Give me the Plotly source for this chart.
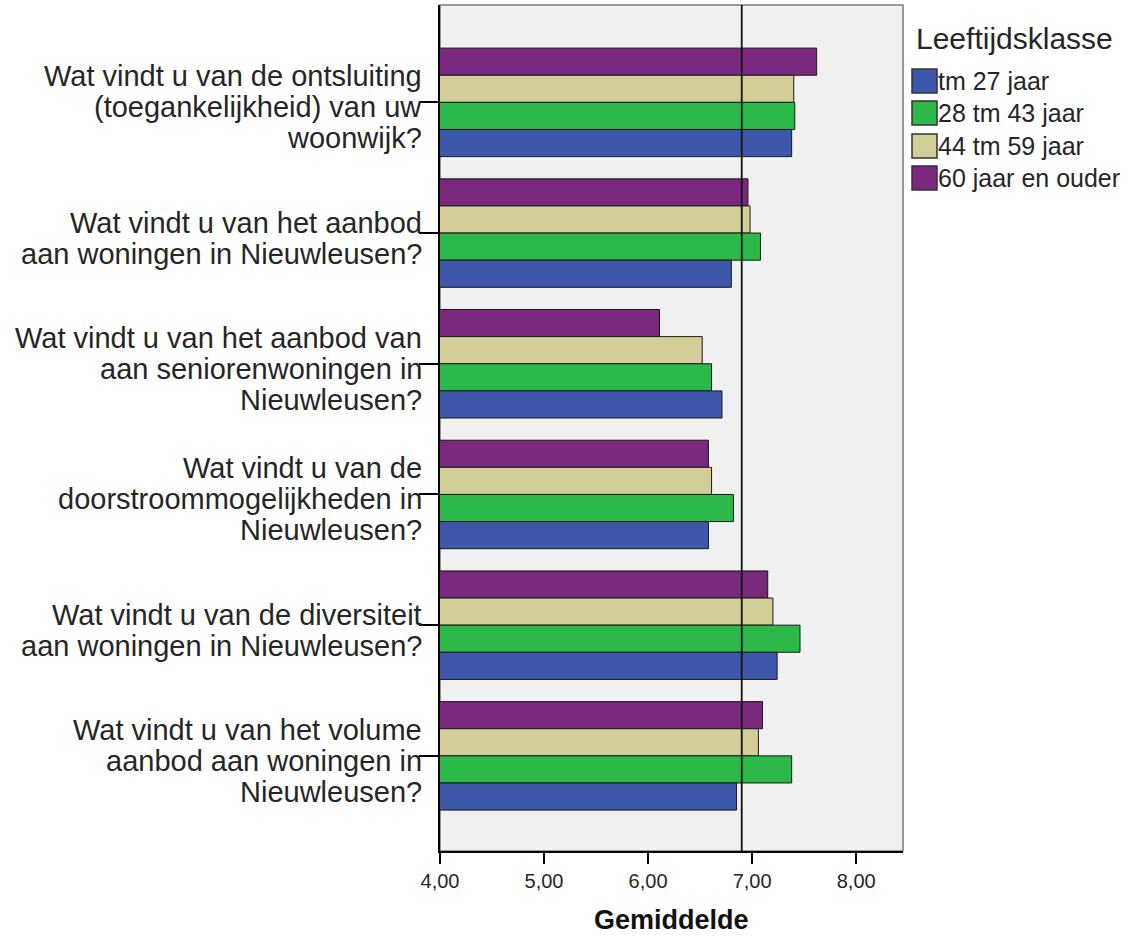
import plotly.graph_objects as go

# ---------------- data ----------------
questions = [
    ["Wat vindt u van de ontsluiting", "(toegankelijkheid) van uw", "woonwijk?"],
    ["Wat vindt u van het aanbod", "aan woningen in Nieuwleusen?"],
    ["Wat vindt u van het aanbod van", "aan seniorenwoningen in", "Nieuwleusen?"],
    ["Wat vindt u van de", "doorstroommogelijkheden in", "Nieuwleusen?"],
    ["Wat vindt u van de diversiteit", "aan woningen in Nieuwleusen?"],
    ["Wat vindt u van het volume", "aanbod aan woningen in", "Nieuwleusen?"],
]
categories = [" ".join(q) for q in questions]

age_groups = ["tm 27 jaar", "28 tm 43 jaar", "44 tm 59 jaar", "60 jaar en ouder"]
tm_27 = [7.38, 6.80, 6.71, 6.58, 7.24, 6.85]
tm_43 = [7.41, 7.08, 6.61, 6.82, 7.46, 7.38]
tm_59 = [7.40, 6.98, 6.52, 6.61, 7.20, 7.06]
plus_60 = [7.62, 6.96, 6.11, 6.58, 7.15, 7.10]
series_values = [tm_27, tm_43, tm_59, plus_60]
colors = ["#3D57AB", "#2DB84A", "#D3CE98", "#7A287D"]

overall_mean = 6.90
x_tick_values = [4, 5, 6, 7, 8]
x_tick_labels = ["4,00", "5,00", "6,00", "7,00", "8,00"]
legend_title = "Leeftijdsklasse"
x_title = "Gemiddelde"

# ---------------- layout constants ----------------
W, H = 1129, 937
L, R, T, B = 440, 226, 5, 86
PW, PH = W - L - R, H - T - B
FONT = "Liberation Sans, Arial, sans-serif"
TXT = "#262626"

fig = go.Figure()

# top-to-bottom in each group: 60+, 44-59, 28-43, tm 27
for idx in [3, 2, 1, 0]:
    fig.add_trace(go.Bar(
        y=categories, x=series_values[idx], orientation="h",
        name=age_groups[idx],
        marker=dict(color=colors[idx], line=dict(color="#1a1a1a", width=1)),
        showlegend=False,
    ))

fig.update_layout(
    width=W, height=H,
    margin=dict(l=L, r=R, t=T, b=B),
    paper_bgcolor="white", plot_bgcolor="#F0F0F0",
    barmode="group", bargap=0.17, bargroupgap=0,
    separators=",.",
    font=dict(family=FONT, color=TXT),
)

fig.update_xaxes(
    range=[4, 8.45], tickvals=x_tick_values, ticktext=x_tick_labels,
    showgrid=False, zeroline=False,
    showline=True, linecolor="black", linewidth=1.5,
    ticks="outside", ticklen=11, tickwidth=1.5, tickcolor="black",
    tickfont=dict(size=20, color=TXT, family=FONT),
)
fig.update_yaxes(
    type="category", categoryorder="array", categoryarray=categories,
    range=[5.728, -0.745],
    showgrid=False, zeroline=False,
    showline=True, linecolor="black", linewidth=1.5,
    ticks="outside", ticklen=19, tickwidth=1.5, tickcolor="black",
    showticklabels=False,
)

shapes = []
# plot frame (top / right)
shapes.append(dict(type="rect", xref="paper", yref="paper", x0=0, x1=1, y0=0, y1=1,
                   line=dict(color="#7a7a7a", width=1.5), layer="below"))
# overall mean reference line
shapes.append(dict(type="line", xref="x", yref="paper", x0=overall_mean, x1=overall_mean,
                   y0=0, y1=1, line=dict(color="#111111", width=1.8), layer="above"))

annotations = []
# category labels, line by line
pitch = 31
for cat, lines in zip(categories, questions):
    n = len(lines)
    for i, line in enumerate(lines):
        offset = (i - (n - 1) / 2) * pitch + 5
        annotations.append(dict(
            x=0, xref="paper", xanchor="right", xshift=-16,
            y=cat, yref="y", yanchor="middle", yshift=-offset,
            text=line, showarrow=False,
            font=dict(size=29, color=TXT, family=FONT),
        ))

# x axis title
annotations.append(dict(
    x=0.5, xref="paper", y=0, yref="paper", yanchor="middle", yshift=-(920 - (T + PH)),
    text="<b>" + x_title + "</b>", showarrow=False,
    font=dict(size=27, color="#111111", family=FONT),
))

# legend (custom, to match swatch size)
def px_to_paper_x(px):
    return (px - L) / PW

def px_to_paper_y(py):
    return (T + PH - py) / PH

annotations.append(dict(
    x=px_to_paper_x(914), xref="paper", xanchor="left",
    y=px_to_paper_y(38), yref="paper", yanchor="middle",
    text=legend_title, showarrow=False,
    font=dict(size=30, color=TXT, family=FONT),
))
legend_rows = [81, 113, 146, 178]
for name, col, py in zip(age_groups, colors, legend_rows):
    shapes.append(dict(type="rect", xref="paper", yref="paper",
                       x0=px_to_paper_x(912), x1=px_to_paper_x(937),
                       y0=px_to_paper_y(py + 12), y1=px_to_paper_y(py - 12),
                       fillcolor=col, line=dict(color="#333333", width=1.5)))
    annotations.append(dict(
        x=px_to_paper_x(936), xref="paper", xanchor="left",
        y=px_to_paper_y(py), yref="paper", yanchor="middle",
        text=name, showarrow=False,
        font=dict(size=25, color=TXT, family=FONT),
    ))

fig.update_layout(shapes=shapes, annotations=annotations)

fig.write_html(
    "out.html",
    config={"displayModeBar": False},
    post_script="document.body.style.margin='0px';document.body.style.padding='0px';",
)
